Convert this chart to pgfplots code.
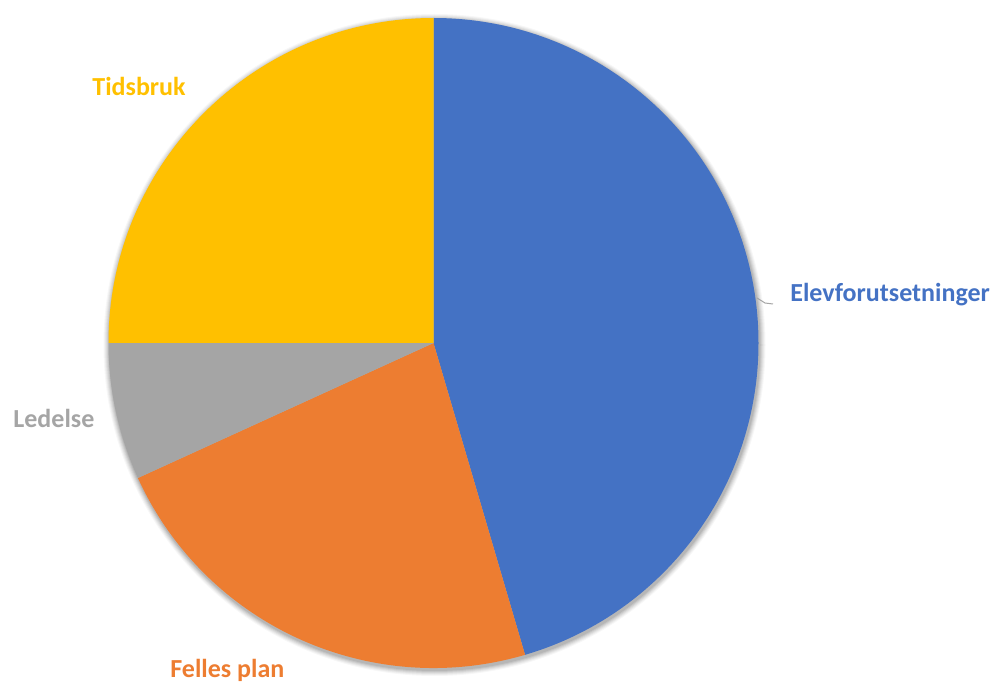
\documentclass[border=0pt]{standalone}
\usepackage{pgfplots}
\usepackage{pgfplotstable}
\pgfplotsset{compat=1.18}
\usepackage{fontspec}
\setmainfont{Carlito}
\definecolor{cblue}{HTML}{4472C4}
\definecolor{corange}{HTML}{ED7D31}
\definecolor{cgray}{HTML}{A5A5A5}
\definecolor{cyellow}{HTML}{FFC000}
\pgfplotstableread[col sep=comma]{
label,value
Elevforutsetninger,20
Felles plan,10
Ledelse,3
Tidsbruk,11
}\piedata
\pgfplotstablegetelem{0}{value}\of\piedata \let\va\pgfplotsretval
\pgfplotstablegetelem{1}{value}\of\piedata \let\vb\pgfplotsretval
\pgfplotstablegetelem{2}{value}\of\piedata \let\vc\pgfplotsretval
\pgfplotstablegetelem{3}{value}\of\piedata \let\vd\pgfplotsretval
\pgfmathsetmacro\tot{\va+\vb+\vc+\vd}
\pgfmathsetmacro\aA{90}
\pgfmathsetmacro\aB{\aA-360*\va/\tot}
\pgfmathsetmacro\aC{\aB-360*\vb/\tot}
\pgfmathsetmacro\aD{\aC-360*\vc/\tot}
\pgfmathsetmacro\aE{\aD-360*\vd/\tot}
\tikzset{lbl/.style={inner sep=0pt, anchor=base west, font=\fontsize{13}{15}\selectfont\bfseries}}
\begin{document}
\begin{tikzpicture}
\useasboundingbox (0,0) rectangle (498.5pt,340.5pt);
\begin{axis}[
  at={(0,0)}, anchor=south west,
  scale only axis, width=498.5pt, height=340.5pt,
  xmin=0, xmax=997, ymin=0, ymax=681,
  hide axis, clip=false,
]
% soft shadow
\fill[black, opacity=0.03] (axis cs:434.5,336) circle[radius=165.5pt];
\fill[black, opacity=0.04] (axis cs:434.5,336) circle[radius=165pt];
\fill[black, opacity=0.05] (axis cs:434.5,336) circle[radius=164.5pt];
\fill[black, opacity=0.06] (axis cs:434.5,336) circle[radius=164pt];
\fill[black, opacity=0.07] (axis cs:434.5,336) circle[radius=163.5pt];
\fill[black, opacity=0.08] (axis cs:434.5,336) circle[radius=163pt];
\fill[cblue] (axis cs:433.5,338) -- ++(\aA:162.5pt) arc[start angle=\aA, end angle=\aB, radius=162.5pt] -- cycle;
\fill[corange] (axis cs:433.5,338) -- ++(\aB:162.5pt) arc[start angle=\aB, end angle=\aC, radius=162.5pt] -- cycle;
\fill[cgray] (axis cs:433.5,338) -- ++(\aC:162.5pt) arc[start angle=\aC, end angle=\aD, radius=162.5pt] -- cycle;
\fill[cyellow] (axis cs:433.5,338) -- ++(\aD:162.5pt) arc[start angle=\aD, end angle=\aE, radius=162.5pt] -- cycle;
% leader line
\draw[gray!70, line width=0.5pt] (axis cs:757,383) -- (axis cs:765,378) -- (axis cs:773,377);
% labels
\node[lbl, text=cblue] at (axis cs:790,379) {Elevforutsetninger};
\node[lbl, text=corange] at (axis cs:170,4) {Felles plan};
\node[lbl, text=cgray] at (axis cs:13,253) {Ledelse};
\node[lbl, text=cyellow] at (axis cs:92,585) {Tidsbruk};
\end{axis}
\end{tikzpicture}
\end{document}
